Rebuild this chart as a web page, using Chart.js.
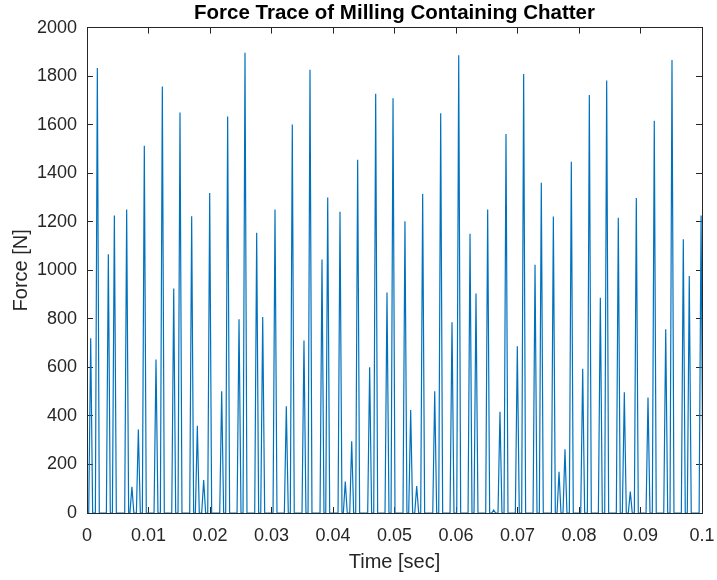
<!DOCTYPE html>
<html>
<head>
<meta charset="utf-8">
<title>Force Trace of Milling Containing Chatter</title>
<script src="https://cdn.jsdelivr.net/npm/chart.js@4.4.1/dist/chart.umd.min.js"></script>
<style>
  html, body { margin: 0; padding: 0; background: #fff; }
  #wrap { width: 717px; height: 580px; }
</style>
</head>
<body>
<div id="wrap"><canvas id="chart" width="717" height="580"></canvas></div>
<script>
// peak time [sec] and peak force [N] of each tooth pass
const peakTime = [
  0.0006, 0.00168, 0.00347, 0.00445, 0.00645, 0.0073, 0.00835, 0.00932, 0.01122, 0.01225,
  0.0141, 0.01512, 0.01702, 0.01794, 0.01897, 0.01995, 0.0219, 0.02287, 0.02472, 0.02569,
  0.02759, 0.02857, 0.03057, 0.03241, 0.03338, 0.03528, 0.03626, 0.03821, 0.03914, 0.04114,
  0.042, 0.04304, 0.04401, 0.04596, 0.04694, 0.04878, 0.04976, 0.0517, 0.05263, 0.05361,
  0.05458, 0.05654, 0.05751, 0.05935, 0.06044, 0.06228, 0.06325, 0.06515, 0.06613, 0.06715,
  0.06813, 0.06997, 0.071, 0.07285, 0.07387, 0.07583, 0.07675, 0.07772, 0.07875, 0.0806,
  0.08168, 0.08347, 0.0845, 0.08639, 0.08737, 0.08834, 0.08932, 0.09122, 0.09224, 0.0941,
  0.09512, 0.09696, 0.09793, 0.09985
];
const peakForce = [
  720, 1834, 1066, 1226, 1250, 108, 344, 1513, 632, 1757,
  925, 1650, 1223, 359, 136, 1318, 502, 1634, 798, 1896,
  1155, 808, 1251, 440, 1601, 711, 1826, 1044, 1300, 1241,
  130, 296, 1455, 600, 1727, 908, 1709, 1202, 424, 111,
  1314, 502, 1647, 786, 1886, 1151, 904, 1251, 12, 417,
  1562, 687, 1809, 1023, 1361, 1222, 170, 263, 1447, 594,
  1722, 887, 1782, 1217, 497, 88, 1298, 476, 1616, 757,
  1867, 1128, 977, 1226
];
const xTicks = [0, 0.01, 0.02, 0.03, 0.04, 0.05, 0.06, 0.07, 0.08, 0.09, 0.1];
const yTicks = [0, 200, 400, 600, 800, 1000, 1200, 1400, 1600, 1800, 2000];

// half width of a cutting pulse, force is zero between pulses
const pulseHalf = 0.00032;

const trace = [{x: 0, y: 0}];
peakTime.forEach((t, i) => {
  trace.push({x: t - pulseHalf, y: 0});
  trace.push({x: t, y: peakForce[i]});
  trace.push({x: t + pulseHalf, y: 0});
});

const axisColor = '#262626';
const tickFont = {family: 'Liberation Sans, Arial, sans-serif', size: 18};
const labelFont = {family: 'Liberation Sans, Arial, sans-serif', size: 20};

function setTicks(list) {
  return scale => { scale.ticks = list.map(v => ({value: v})); };
}

const ctx = document.getElementById('chart').getContext('2d');
new Chart(ctx, {
  type: 'line',
  data: {
    datasets: [{
      data: trace,
      borderColor: '#0072BD',
      borderWidth: 1.2,
      pointRadius: 0,
      tension: 0,
      fill: false
    }]
  },
  options: {
    responsive: false,
    animation: false,
    layout: {padding: {left: 0, right: 15, top: 0, bottom: 0}},
    plugins: {
      legend: {display: false},
      tooltip: {enabled: false},
      title: {
        display: true,
        fullSize: false,
        text: 'Force Trace of Milling Containing Chatter',
        color: '#000',
        font: {family: 'Liberation Sans, Arial, sans-serif', size: 20.5, weight: 'bold'},
        padding: {top: 1, bottom: 2}
      }
    },
    scales: {
      x: {
        type: 'linear',
        position: 'bottom',
        min: 0, max: 0.1,
        afterBuildTicks: setTicks(xTicks),
        afterFit: s => { s.height = 67; s.paddingLeft = 0; s.paddingRight = 0; },
        grid: {drawOnChartArea: false, tickLength: -6, color: axisColor},
        border: {color: axisColor, width: 1},
        ticks: {
          color: axisColor, font: tickFont, padding: 18, maxRotation: 0,
          autoSkip: false, callback: v => String(v)
        },
        title: {display: true, text: 'Time [sec]', color: axisColor, font: labelFont,
                padding: {top: 0, bottom: 6}}
      },
      y: {
        position: 'left',
        min: 0, max: 2000,
        afterBuildTicks: setTicks(yTicks),
        afterFit: s => { s.width = 87; s.paddingTop = 0; s.paddingBottom = 0; },
        grid: {drawOnChartArea: false, tickLength: -6, color: axisColor},
        border: {color: axisColor, width: 1},
        ticks: {color: axisColor, font: tickFont, padding: 16, autoSkip: false,
                callback: v => String(v)},
        title: {display: true, text: 'Force [N]', color: axisColor, font: labelFont,
                padding: {top: 9, bottom: 0}}
      },
      xTop: {
        type: 'linear',
        position: 'top',
        min: 0, max: 0.1,
        afterBuildTicks: setTicks(xTicks),
        afterFit: s => { s.height = 0; s.paddingLeft = 0; s.paddingRight = 0; },
        grid: {drawOnChartArea: false, tickLength: -6, color: axisColor},
        border: {color: axisColor, width: 1},
        ticks: {display: false}
      },
      yRight: {
        position: 'right',
        min: 0, max: 2000,
        afterBuildTicks: setTicks(yTicks),
        afterFit: s => { s.width = 0; s.paddingTop = 0; s.paddingBottom = 0; },
        grid: {drawOnChartArea: false, tickLength: -6, color: axisColor},
        border: {color: axisColor, width: 1},
        ticks: {display: false}
      }
    }
  }
});
</script>
</body>
</html>
